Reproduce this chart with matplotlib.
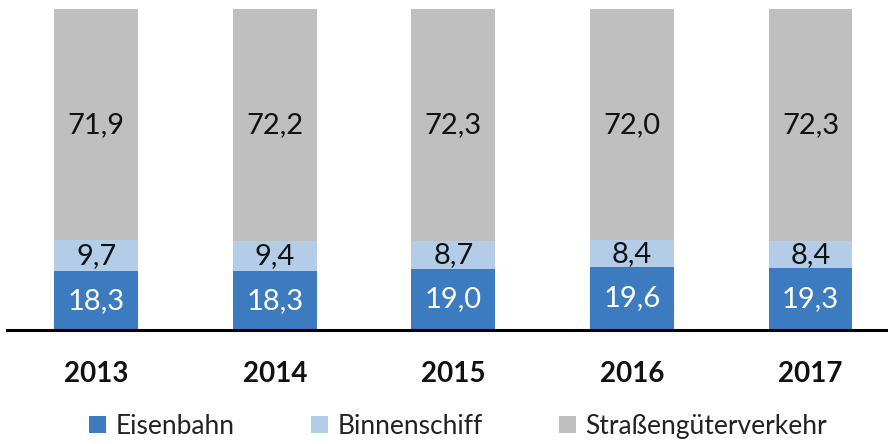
import numpy as np
import matplotlib.pyplot as plt
from matplotlib.patches import Patch

jahre = ["2013", "2014", "2015", "2016", "2017"]
eisenbahn = [18.3, 18.3, 19.0, 19.6, 19.3]
binnenschiff = [9.7, 9.4, 8.7, 8.4, 8.4]
strasse = [71.9, 72.2, 72.3, 72.0, 72.3]
namen = ["Eisenbahn", "Binnenschiff", "Straßengüterverkehr"]

farben = ["#3c7bc0", "#b3cde8", "#bfbfbf"]
textfarben = ["white", "#111111", "#111111"]

plt.rcParams['font.family'] = ['Lato', 'DejaVu Sans']

fig = plt.figure(figsize=(8.88, 4.44), dpi=100)
ax = fig.add_axes([7/888, 1 - 330/444, 1 - 7/888, 321/444])

x = np.arange(len(jahre))
unten = np.zeros(len(jahre))
for werte, farbe, tf in zip([eisenbahn, binnenschiff, strasse], farben, textfarben):
    werte = np.array(werte)
    ax.bar(x, werte, bottom=unten, width=0.47, color=farbe, edgecolor='none')
    for xi, b, w in zip(x, unten, werte):
        ax.text(xi, b + w / 2, f"{w:.1f}".replace(".", ","), ha='center', va='center',
                fontsize=21, color=tf)
    unten += werte

ax.set_xlim(-0.5, 4.434)
ax.set_ylim(0, 100)
ax.set_yticks([])
ax.set_xticks(x)
ax.set_xticklabels(jahre, fontsize=20, fontweight='bold', color='#111111')
ax.tick_params(axis='x', length=0, pad=22)
for s in ['top', 'right', 'left']:
    ax.spines[s].set_visible(False)
ax.spines['bottom'].set_linewidth(2.2)
ax.spines['bottom'].set_color('black')

handles = [Patch(facecolor=f, edgecolor='none') for f in farben]
fig.legend(handles, namen, loc='center', bbox_to_anchor=(458/888, 1 - 426/444), ncol=3,
           frameon=False, fontsize=19, handlelength=0.64, handleheight=0.64,
           handletextpad=0.35, columnspacing=2.9, labelcolor='#222222')

fig.savefig("out.png", dpi=100)
